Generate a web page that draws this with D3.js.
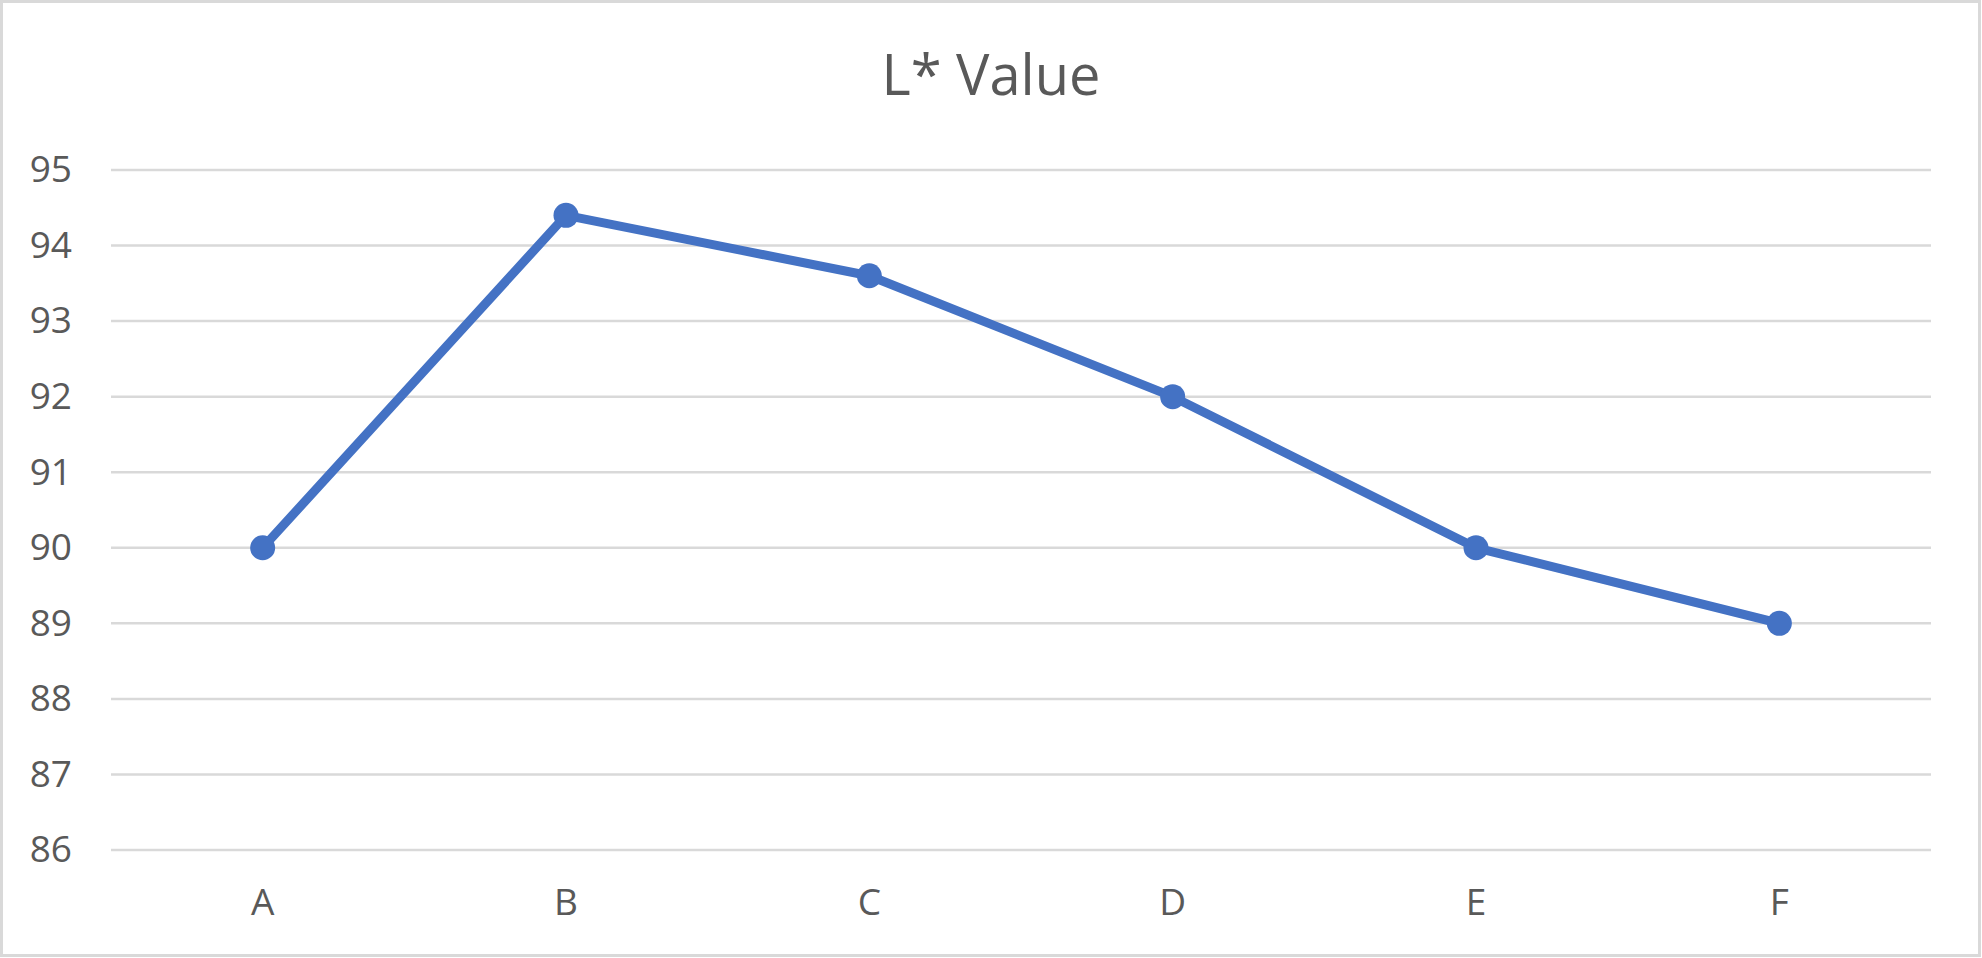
<!DOCTYPE html>
<html>
<head>
<meta charset="utf-8">
<script src="https://cdn.jsdelivr.net/npm/d3@7"></script>
<style>
html,body{margin:0;padding:0;background:#fff;}
svg{display:block;}
text{font-family:"Open Sans",sans-serif;fill:#595959;}
</style>
</head>
<body>
<svg id="chart" width="1982" height="958"></svg>
<script>
const title = "L* Value";
const categories = ["A","B","C","D","E","F"];
const values = [90, 94.4, 93.6, 92, 90, 89];
const yTicks = [86,87,88,89,90,91,92,93,94,95];

const W = 1982, H = 958;
const margin = {left:111, right:51, top:170, bottom:108};
const svg = d3.select("#chart");

svg.append("rect").attr("x",1.5).attr("y",1.5).attr("width",W-4).attr("height",H-4)
  .attr("fill","#fff").attr("stroke","#d9d9d9").attr("stroke-width",3);

const x = d3.scaleBand().domain(categories).range([margin.left, W-margin.right]);
const y = d3.scaleLinear().domain([86,95]).range([H-margin.bottom, margin.top]);

// gridlines
svg.append("g").selectAll("line").data(yTicks).join("line")
  .attr("x1", margin.left).attr("x2", W-margin.right)
  .attr("y1", d=>y(d)).attr("y2", d=>y(d))
  .attr("stroke","#d9d9d9").attr("stroke-width",2.5);

// y axis labels
const yAxis = d3.axisLeft(y).tickValues(yTicks).tickSize(0).tickPadding(39);
const gy = svg.append("g").attr("transform",`translate(${margin.left},0)`).call(yAxis);
gy.select(".domain").remove();
gy.selectAll("text").style("font-size","37px").attr("fill","#595959").style("font-family","'Open Sans',sans-serif");

// x axis labels
const xAxis = d3.axisBottom(x).tickSize(0).tickPadding(39);
const gx = svg.append("g").attr("transform",`translate(0,${H-margin.bottom})`).call(xAxis);
gx.select(".domain").remove();
gx.selectAll("text").style("font-size","37px").attr("fill","#595959").style("font-family","'Open Sans',sans-serif");

// title
svg.append("text").attr("x", W/2).attr("y", 95).attr("text-anchor","middle")
  .style("font-size","56px").text(title);

const cx = d => x(d) + x.bandwidth()/2;
const line = d3.line().x((d,i)=>cx(categories[i])).y(d=>y(d));
svg.append("path").datum(values).attr("d", line)
  .attr("fill","none").attr("stroke","#4472C4").attr("stroke-width",9)
  .attr("stroke-linejoin","round");

svg.append("g").selectAll("circle").data(values).join("circle")
  .attr("cx",(d,i)=>cx(categories[i])).attr("cy",d=>y(d)).attr("r",12.5)
  .attr("fill","#4472C4");
</script>
</body>
</html>
